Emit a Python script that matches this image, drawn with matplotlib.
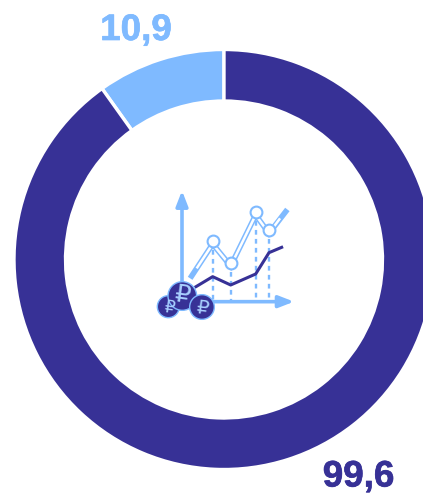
import matplotlib
matplotlib.use('Agg')
import matplotlib.pyplot as plt
import matplotlib.patheffects as pe
from matplotlib.patches import Circle

values = [10.9, 99.6]
labels = ['10,9', '99,6']
light = '#7fbaff'
dark = '#373196'

# icon lines
peak_x = [218, 272, 347, 387]
peak_y = [213, 278, 125, 181]
light_x = [155, 218, 272, 347, 387, 437]
light_y = [318, 222, 288, 135, 190, 125]
hollow_x = [172, 218, 272, 347, 387, 418]
hollow_y = [292, 222, 288, 135, 190, 148]
dark_x = [168, 218, 272, 347, 387, 425]
dark_y = [350, 320, 345, 312, 248, 232]
# left coin, big coin, right coin, in drawing order
coin_x = [85, 127, 186]
coin_y = [410, 378, 411]
coin_r = [33, 43, 37]
sign_x = [88, 127, 186]
sign_y = [412, 376, 414]
sign_size = [12, 18, 14]

fig = plt.figure(figsize=(4.23, 4.93), dpi=100)
ax = fig.add_axes([0, 0, 1, 1])

ax.pie(values, colors=[light, dark], startangle=90, counterclock=True,
       center=(224, 233.5), radius=210, frame=True,
       wedgeprops=dict(width=51.5, edgecolor='white', linewidth=2.4))
ax.set_aspect('equal')
ax.set_xlim(0, 423)
ax.set_ylim(0, 493)
ax.axis('off')

t1 = ax.text(136, 493 - 40, labels[0], color=light, fontsize=26.5, fontweight='bold',
             family='Liberation Sans', ha='center', va='baseline')
t2 = ax.text(358.5, 493 - 486.5, labels[1], color=dark, fontsize=26.5, fontweight='bold',
             family='Liberation Sans', ha='center', va='baseline')
t1.set_path_effects([pe.withStroke(linewidth=0.5, foreground=light)])
t2.set_path_effects([pe.withStroke(linewidth=0.5, foreground=dark)])

# icon in the middle
ic = fig.add_axes([140 / 423, 1 - 330 / 493, 170 / 423, 160 / 493])
ic.set_xlim(0, 510)
ic.set_ylim(480, 0)
ic.axis('off')

ic.annotate('', xy=(126, 62), xytext=(126, 395),
            arrowprops=dict(arrowstyle='-|>,head_width=0.35,head_length=0.9', color=light, lw=2.6, shrinkA=0, shrinkB=0))
ic.annotate('', xy=(462, 395), xytext=(126, 395),
            arrowprops=dict(arrowstyle='-|>,head_width=0.35,head_length=0.9', color=light, lw=2.6, shrinkA=0, shrinkB=0))

for x, y in zip(peak_x, peak_y):
    ic.plot([x, x], [y, 395], color=light, lw=1.7, ls=(0, (2, 1.8)))

ic.plot(light_x, light_y, color=light, lw=4, solid_joinstyle='miter')
ic.plot(hollow_x, hollow_y, color='white', lw=1.8, solid_joinstyle='miter')
ic.plot(peak_x, peak_y, ls='', marker='o', ms=8.5, mfc='white', mec=light, mew=1.5)
ic.plot(dark_x, dark_y, color=dark, lw=2.2)

for i, (x, y, r) in enumerate(zip(coin_x, coin_y, coin_r)):
    ic.add_patch(Circle((x, y), r, fc=dark, ec=light, lw=1, zorder=5 + i))
# signs stay on top of every coin
for x, y, s in zip(sign_x, sign_y, sign_size):
    ic.text(x, y, '₽', color='#a9d0ff', fontsize=s, ha='center', va='center',
            family='DejaVu Sans', zorder=10, rotation=-8)

fig.savefig('out.png', dpi=100)
